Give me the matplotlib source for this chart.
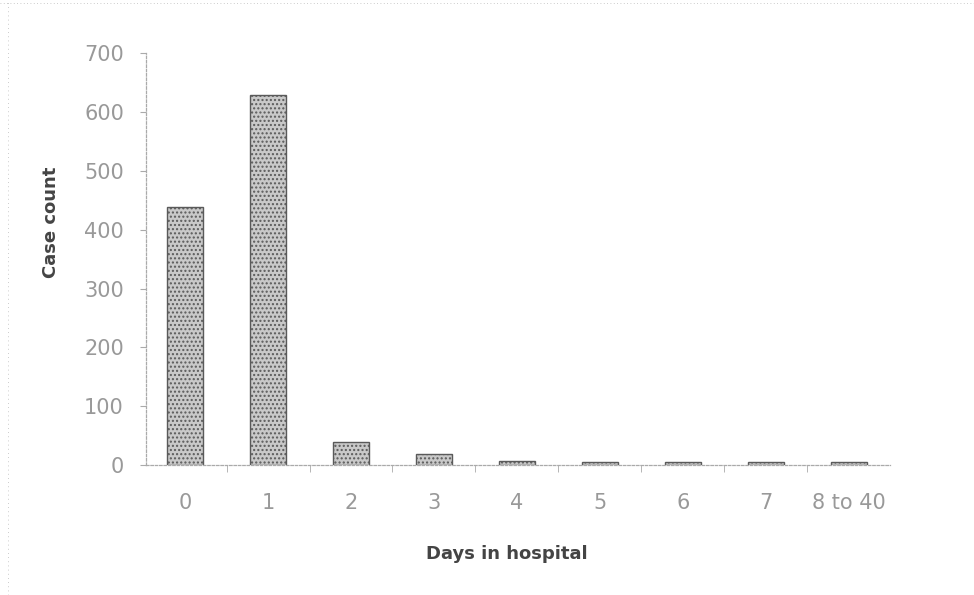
import matplotlib
matplotlib.use("Agg")
import matplotlib.pyplot as plt
from matplotlib.lines import Line2D

days = ["0", "1", "2", "3", "4", "5", "6", "7", "8 to 40"]
cases = [438, 628, 40, 20, 8, 5, 5, 6, 5]
yticks = [0, 100, 200, 300, 400, 500, 600, 700]

plt.rcParams['font.family'] = ['DejaVu Sans']

fig = plt.figure(figsize=(9.74, 5.95), dpi=100)
ax = fig.add_axes([0.150, 0.218, 0.764, 0.693])

x = list(range(len(days)))
ax.bar(x, cases, width=0.43, color="#c9c9c9", edgecolor="#5a5a5a",
       linewidth=1.0, hatch="....")

ax.set_xlim(-0.47, 8.5)
ax.set_ylim(0, 700)
ax.set_yticks(yticks)
ax.set_xticks(x)
ax.set_xticklabels(days)
ax.set_xticks([i + 0.5 for i in range(len(days) - 1)], minor=True)

ax.tick_params(axis="y", colors="#aaaaaa", labelcolor="#999999",
               labelsize=15, length=4, pad=12)
ax.tick_params(axis="x", which="major", length=0, labelcolor="#999999",
               labelsize=15, pad=20)
ax.tick_params(axis="x", which="minor", length=5, color="#aaaaaa")

for s in ["top", "right"]:
    ax.spines[s].set_visible(False)
for s in ["left", "bottom"]:
    ax.spines[s].set_color("#aaaaaa")
    ax.spines[s].set_linestyle((0, (2, 1.5)))
    ax.spines[s].set_linewidth(0.9)

ax.set_ylabel("Case count", fontsize=13, fontweight="bold", color="#444444")
ax.yaxis.set_label_coords(-0.116, 0.59)
ax.set_xlabel("Days in hospital", fontsize=13, fontweight="bold", color="#444444")
ax.xaxis.set_label_coords(0.485, -0.194)

# faint scan border
fig.add_artist(Line2D([0.0, 1.0], [0.995, 0.995], color="#bbbbbb",
                      linestyle=(0, (1, 3)), linewidth=0.6))
fig.add_artist(Line2D([0.008, 0.008], [0.0, 1.0], color="#bbbbbb",
                      linestyle=(0, (1, 4)), linewidth=0.6))

fig.savefig("out.png", dpi=100)
